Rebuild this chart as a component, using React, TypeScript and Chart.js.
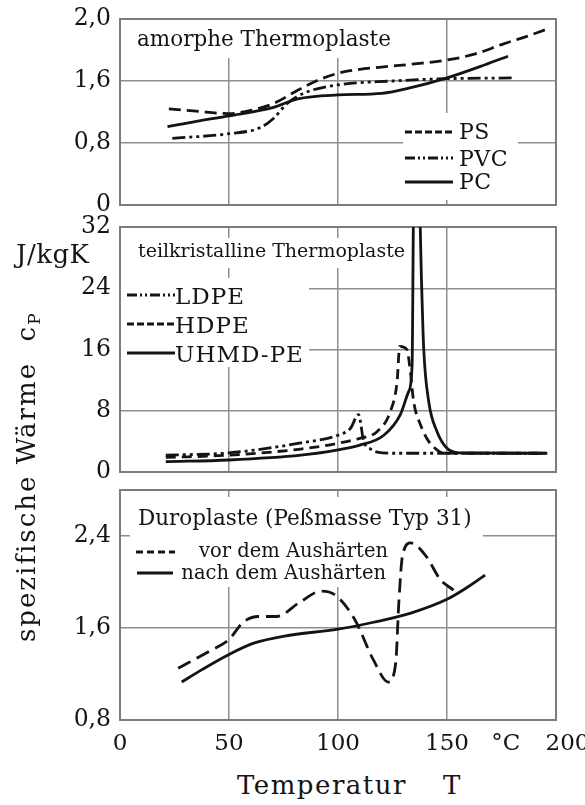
import React, { useEffect, useRef } from "react";
import { Chart, registerables } from "chart.js";

Chart.register(...registerables);

// ---------- data ----------
const X_TICKS = [0, 50, 100, 150, 177, 200];
const X_TICK_LABELS = ["0", "50", "100", "150", "°C", "\u2002\u2002200"];

const AMORPH_Y_TICKS = [0, 0.8, 1.6, 2.4];
const AMORPH_Y_LABELS = ["0", "0,8", "1,6", "2,0"];
const TEIL_Y_TICKS = [0, 8, 16, 24, 32];
const TEIL_Y_LABELS = ["0", "8", "16", "24", "32"];
const DURO_Y_TICKS = [0.8, 1.6, 2.4];
const DURO_Y_LABELS = ["0,8", "1,6", "2,4"];

const AMORPH_TITLE = "amorphe Thermoplaste";
const AMORPH_NAMES = ["PS", "PVC", "PC"];
const TEIL_TITLE = "teilkristalline Thermoplaste";
const TEIL_NAMES = ["LDPE", "HDPE", "UHMD-PE"];
const DURO_TITLE = "Duroplaste (Peßmasse Typ 31)";
const DURO_NAMES = ["vor dem Aushärten", "nach dem Aushärten"];

// amorphe Thermoplaste
const psT = [22.4, 35, 50, 60, 70.5, 81.5, 90, 100, 110, 120, 135, 150, 163, 176, 186, 195.9];
const psCp = [1.24, 1.21, 1.18, 1.22, 1.31, 1.48, 1.6, 1.7, 1.75, 1.78, 1.82, 1.87, 1.95, 2.08, 2.17, 2.27];
const pvcT = [24, 50, 64.5, 70.5, 76.7, 85, 100, 125, 150, 180];
const pvcCp = [0.86, 0.92, 1.0, 1.12, 1.31, 1.45, 1.55, 1.6, 1.63, 1.64];
const pcT = [21.8, 35, 50, 70.5, 81.5, 100, 120, 133, 150, 167.5, 178];
const pcCp = [1.01, 1.08, 1.15, 1.26, 1.37, 1.42, 1.44, 1.51, 1.64, 1.81, 1.92];

// teilkristalline Thermoplaste
const ldpeT = [21, 50, 83, 100, 105.7, 109.4, 111.8, 115, 118, 125, 150, 195];
const ldpeCp = [2.2, 2.5, 3.8, 4.8, 5.7, 7.5, 4.0, 3.0, 2.6, 2.45, 2.45, 2.45];
const hdpeT = [21, 50, 83, 100, 110, 118, 124, 127.1, 128.3, 131.6, 133.2, 134.7, 137.8, 141.6, 145.4, 148, 155, 195];
const hdpeCp = [1.9, 2.2, 3.0, 3.75, 4.4, 5.3, 7.9, 11.8, 16.4, 16.0, 13.1, 9.2, 6.2, 4.0, 2.9, 2.5, 2.45, 2.45];
const uhmdT = [21, 50, 83, 100, 110, 121, 128.6, 132.4, 134, 134.7, 137.4, 138.3, 139.3, 141.6, 145.4, 150, 156, 196];
const uhmdCp = [1.35, 1.57, 2.2, 2.9, 3.5, 4.8, 7.5, 10.5, 14, 34, 34, 25, 16.2, 9.2, 5.3, 3.1, 2.5, 2.45];

// Duroplaste
const vorT = [26.7, 41.2, 50, 56.5, 63.4, 71.9, 82.2, 92.4, 99.2, 107.8, 116.3, 123.1, 126.5, 127.9, 129.6, 133.4, 140.2, 147, 153];
const vorCp = [1.25, 1.4, 1.5, 1.65, 1.7, 1.7, 1.82, 1.92, 1.88, 1.67, 1.32, 1.13, 1.3, 1.82, 2.23, 2.34, 2.23, 2.02, 1.93];
const nachT = [28.3, 37.8, 50, 61.7, 75.4, 100, 116.3, 133.4, 150, 159, 167.5];
const nachCp = [1.13, 1.24, 1.37, 1.47, 1.53, 1.59, 1.65, 1.73, 1.85, 1.95, 2.06];

// ---------- styles ----------
const FONT = '"DejaVu Serif", serif';
const INK = "#141414";
const GRID = "#8e8e8e";
const FRAME = "#7c7c7c";
const DASH = [12, 6];
const DASH_DOT_DOT = [13, 4, 3, 4, 3, 4];
const SOLID: number[] = [];

type Series = { t: number[]; v: number[]; dash: number[] };
type TextItem = { text: string; x: number; y: number; size: number; align?: CanvasTextAlign; spacing?: number };
type Key = { x1: number; x2: number; y: number; dash: number[] };
type Box = { x: number; y: number; w: number; h: number };
type PanelCfg = {
  top: number; height: number; areaTop: number; areaBottom: number; xAxisH: number; showX: boolean;
  yMin: number; yMax: number; yTicks: number[]; yLabels: string[];
  series: Series[]; texts: TextItem[]; keys: Key[]; boxes: Box[];
};

const PANELS: PanelCfg[] = [
  {
    top: 0, height: 214, areaTop: 19, areaBottom: 205, xAxisH: 0, showX: false,
    yMin: 0, yMax: 2.4, yTicks: AMORPH_Y_TICKS, yLabels: AMORPH_Y_LABELS,
    series: [
      { t: psT, v: psCp, dash: DASH },
      { t: pvcT, v: pvcCp, dash: DASH_DOT_DOT },
      { t: pcT, v: pcCp, dash: SOLID },
    ],
    texts: [
      { text: AMORPH_TITLE, x: 137, y: 46, size: 21.5 },
      { text: AMORPH_NAMES[0], x: 459, y: 139, size: 22, spacing: 0.5 },
      { text: AMORPH_NAMES[1], x: 459, y: 166, size: 22, spacing: 0.5 },
      { text: AMORPH_NAMES[2], x: 459, y: 189, size: 22, spacing: 0.5 },
    ],
    keys: [
      { x1: 405, x2: 453, y: 132, dash: [7, 3] },
      { x1: 405, x2: 453, y: 158, dash: [10, 3, 2, 3, 2, 3] },
      { x1: 405, x2: 453, y: 182, dash: SOLID },
    ],
    boxes: [
      { x: 126, y: 20, w: 276, h: 38 },
      { x: 403, y: 113, w: 115, h: 87 },
    ],
  },
  {
    top: 214, height: 266, areaTop: 227, areaBottom: 472, xAxisH: 0, showX: false,
    yMin: 0, yMax: 32, yTicks: TEIL_Y_TICKS, yLabels: TEIL_Y_LABELS,
    series: [
      { t: ldpeT, v: ldpeCp, dash: DASH_DOT_DOT },
      { t: hdpeT, v: hdpeCp, dash: [10, 6] },
      { t: uhmdT, v: uhmdCp, dash: SOLID },
    ],
    texts: [
      { text: TEIL_TITLE, x: 138, y: 257, size: 19 },
      { text: TEIL_NAMES[0], x: 175, y: 304, size: 23, spacing: 1 },
      { text: TEIL_NAMES[1], x: 175, y: 333, size: 23, spacing: 1 },
      { text: TEIL_NAMES[2], x: 175, y: 362, size: 23, spacing: 1 },
    ],
    keys: [
      { x1: 127, x2: 175, y: 295, dash: [10, 3, 2, 3, 2, 3] },
      { x1: 127, x2: 175, y: 324, dash: [7, 3] },
      { x1: 127, x2: 175, y: 353, dash: SOLID },
    ],
    boxes: [
      { x: 126, y: 238, w: 290, h: 30 },
      { x: 121, y: 278, w: 188, h: 89 },
    ],
  },
  {
    top: 480, height: 270, areaTop: 490, areaBottom: 720, xAxisH: 30, showX: true,
    yMin: 0.8, yMax: 2.8, yTicks: DURO_Y_TICKS, yLabels: DURO_Y_LABELS,
    series: [
      { t: vorT, v: vorCp, dash: [14, 7] },
      { t: nachT, v: nachCp, dash: SOLID },
    ],
    texts: [
      { text: DURO_TITLE, x: 138, y: 525, size: 21.5 },
      { text: DURO_NAMES[0], x: 388, y: 557, size: 19.5, align: "right" },
      { text: DURO_NAMES[1], x: 386, y: 579, size: 19.5, align: "right" },
    ],
    keys: [
      { x1: 136, x2: 175, y: 552, dash: [7, 4] },
      { x1: 137, x2: 173, y: 573, dash: SOLID },
    ],
    boxes: [{ x: 130, y: 497, w: 353, h: 90 }],
  },
];

const CHART_LEFT = 120;
const CHART_RIGHT = 556;
const WIDTH = 585;

function annotPlugin(p: PanelCfg) {
  return {
    id: "annot",
    beforeDatasetsDraw(chart: any) {
      const ctx: CanvasRenderingContext2D = chart.ctx;
      const a = chart.chartArea;
      ctx.save();
      ctx.fillStyle = "#ffffff";
      p.boxes.forEach((b) => ctx.fillRect(b.x, b.y - p.top, b.w, b.h));
      ctx.strokeStyle = FRAME;
      ctx.lineWidth = 2;
      ctx.setLineDash([]);
      ctx.strokeRect(a.left, a.top, a.right - a.left, a.bottom - a.top);
      ctx.fillStyle = INK;
      ctx.textBaseline = "alphabetic";
      p.texts.forEach((t) => {
        ctx.font = `${t.size}px ${FONT}`;
        ctx.textAlign = t.align || "left";
        (ctx as any).letterSpacing = `${t.spacing || 0}px`;
        ctx.fillText(t.text, t.x, t.y - p.top);
      });
      (ctx as any).letterSpacing = "0px";
      ctx.strokeStyle = INK;
      ctx.lineWidth = 3;
      p.keys.forEach((k) => {
        ctx.setLineDash(k.dash);
        ctx.beginPath();
        ctx.moveTo(k.x1, k.y - p.top);
        ctx.lineTo(k.x2, k.y - p.top);
        ctx.stroke();
      });
      ctx.restore();
    },
  };
}

function Panel({ p }: { p: PanelCfg }) {
  const ref = useRef<HTMLCanvasElement | null>(null);
  useEffect(() => {
    if (!ref.current) return;
    const datasets = p.series.map((s) => ({
      data: s.t.map((x, i) => ({ x, y: s.v[i] })),
      borderColor: INK,
      borderWidth: 2.8,
      borderDash: s.dash,
      borderCapStyle: "butt" as const,
      pointRadius: 0,
      fill: false,
      cubicInterpolationMode: "monotone" as const,
    }));
    const chart = new Chart(ref.current, {
      type: "line",
      data: { datasets },
      options: {
        responsive: false,
        animation: false,
        events: [],
        layout: {
          padding: {
            top: p.areaTop - p.top,
            bottom: p.top + p.height - p.areaBottom - p.xAxisH,
            left: 0,
            right: WIDTH - CHART_RIGHT,
          },
        },
        plugins: { legend: { display: false }, tooltip: { enabled: false }, title: { display: false } },
        scales: {
          x: {
            type: "linear",
            min: 0,
            max: 200,
            afterBuildTicks: (s: any) => {
              s.ticks = X_TICKS.map((v) => ({ value: v }));
            },
            afterFit: (s: any) => {
              s.height = p.xAxisH;
              s.paddingLeft = 0;
              s.paddingRight = 0;
            },
            ticks: {
              display: p.showX,
              autoSkip: false,
              maxRotation: 0,
              padding: 10,
              color: INK,
              font: { family: FONT, size: 23 },
              callback: (_v: any, i: number) => X_TICK_LABELS[i],
            },
            grid: {
              drawTicks: false,
              lineWidth: 1.5,
              color: (c: any) =>
                c.tick && (c.tick.value === 0 || c.tick.value === 177 || c.tick.value === 200) ? "rgba(0,0,0,0)" : GRID,
            },
            border: { display: false },
          },
          y: {
            type: "linear",
            min: p.yMin,
            max: p.yMax,
            afterBuildTicks: (s: any) => {
              s.ticks = p.yTicks.map((v) => ({ value: v }));
            },
            afterFit: (s: any) => {
              s.width = CHART_LEFT;
              s.paddingTop = 0;
              s.paddingBottom = 0;
            },
            ticks: {
              padding: 9,
              color: INK,
              font: { family: FONT, size: 23.5 },
              callback: (_v: any, i: number) => p.yLabels[i],
            },
            grid: { drawTicks: false, lineWidth: 1.5, color: GRID },
            border: { display: false },
          },
        },
      } as any,
      plugins: [annotPlugin(p) as any],
    });
    return () => chart.destroy();
  }, [p]);
  return (
    <canvas
      ref={ref}
      width={WIDTH}
      height={p.height}
      style={{ position: "absolute", left: 0, top: p.top, width: WIDTH, height: p.height }}
    />
  );
}

export default function App() {
  const textBase: React.CSSProperties = {
    position: "absolute",
    fontFamily: FONT,
    color: INK,
    whiteSpace: "pre",
  };
  return (
    <div style={{ position: "absolute", left: 0, top: 0, width: WIDTH, height: 805, background: "#fff", overflow: "hidden" }}>
      {PANELS.map((p, i) => (
        <Panel key={i} p={p} />
      ))}
      <div style={{ ...textBase, left: 16, top: 241, fontSize: 26, lineHeight: "26px", letterSpacing: 0.5 }}>J/kgK</div>
      <div
        style={{
          ...textBase,
          left: 13,
          top: 642,
          fontSize: 26,
          lineHeight: "26px",
          letterSpacing: 2,
          transformOrigin: "0 0",
          transform: "rotate(-90deg)",
        }}
      >
        {"spezifische Wärme  c"}
        <span style={{ fontSize: 17, position: "relative", top: 5 }}>P</span>
      </div>
      <div style={{ ...textBase, left: 237, top: 773, fontSize: 26, lineHeight: "25px", letterSpacing: 1.5 }}>
        Temperatur<span style={{ marginLeft: 36 }}>T</span>
      </div>
    </div>
  );
}
